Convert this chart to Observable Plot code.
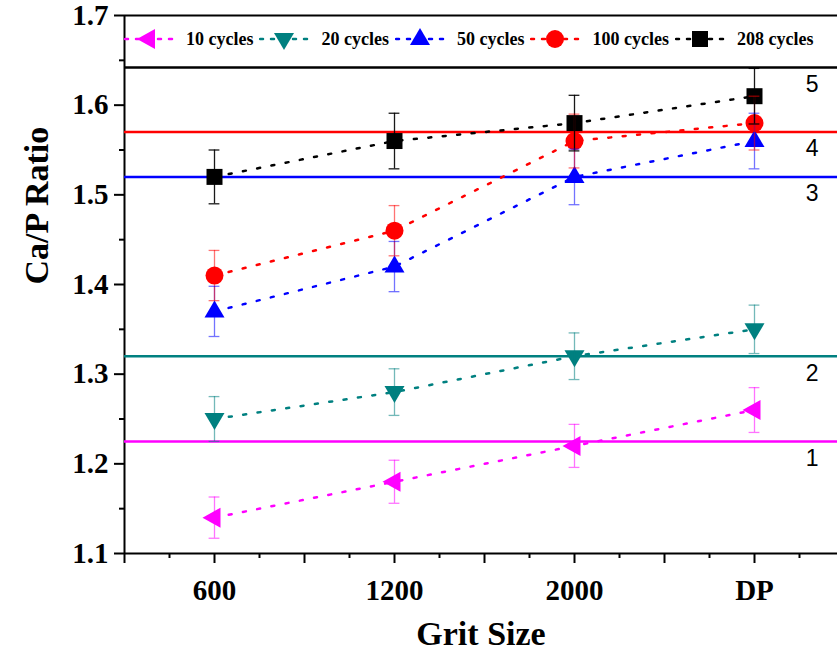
<!DOCTYPE html>
<html>
<head>
<meta charset="utf-8">
<script src="https://cdn.jsdelivr.net/npm/d3@7"></script>
<script src="https://cdn.jsdelivr.net/npm/@observablehq/plot@0.6"></script>
<style>
  html, body { margin: 0; padding: 0; background: #fff; }
  #wrap { position: relative; width: 837px; height: 655px; overflow: hidden; }
  #legend { position: absolute; left: 124px; top: 27px; display: flex; align-items: center;
            font-family: "Liberation Serif", serif; font-weight: bold; font-size: 18px; white-space: nowrap; }
  #legend .item { display: flex; align-items: center; margin-right: 6px; }
  #legend svg { display: block; }
  #legend span { margin-left: 12px; }
</style>
</head>
<body>
<div id="wrap"><div id="legend"></div></div>
<script>
// ---- data ----
const grit = ["600", "1200", "2000", "DP"];
const series = ["10 cycles", "20 cycles", "50 cycles", "100 cycles", "208 cycles"];
const colors = ["#ff00ff", "#008080", "#0000ff", "#ff0000", "#000000"];
const ratio10 = [1.14, 1.18, 1.22, 1.26];
const ratio20 = [1.25, 1.28, 1.32, 1.35];
const ratio50 = [1.37, 1.42, 1.52, 1.56];
const ratio100 = [1.41, 1.46, 1.56, 1.58];
const ratio208 = [1.52, 1.56, 1.58, 1.61];
const err10 = [0.023, 0.024, 0.024, 0.025];
const err20 = [0.025, 0.026, 0.026, 0.027];
const err50 = [0.028, 0.028, 0.031, 0.031];
const err100 = [0.028, 0.028, 0.030, 0.030];
const err208 = [0.030, 0.031, 0.031, 0.031];
const refValues = [1.225, 1.32, 1.52, 1.57, 1.642];
const refLabels = ["1", "2", "3", "4", "5"];
const yTicks = [1.1, 1.2, 1.3, 1.4, 1.5, 1.6, 1.7];
const yMinorTicks = [1.15, 1.25, 1.35, 1.45, 1.55, 1.65];

// ---- build table ----
const ratios = [ratio10, ratio20, ratio50, ratio100, ratio208];
const errs = [err10, err20, err50, err100, err208];
const rows = [];
series.forEach((s, si) => grit.forEach((g, gi) => rows.push({series: s, si, grit: g, gi, v: ratios[si][gi], e: errs[si][gi]})));
const refs = refValues.map((v, i) => ({v, label: refLabels[i], color: colors[i]}));

// ---- symbols ----
const poly = pts => ({
  draw(ctx, size) {
    const k = Math.sqrt(size / Math.PI) / 10;
    ctx.moveTo(pts[0][0] * k, pts[0][1] * k);
    for (let i = 1; i < pts.length; i++) ctx.lineTo(pts[i][0] * k, pts[i][1] * k);
    ctx.closePath();
  }
});
const circ = { draw(ctx, size) { const r = Math.sqrt(size / Math.PI) * 0.9; ctx.moveTo(r, 0); ctx.arc(0, 0, r, 0, 2 * Math.PI); } };
const symbols = [
  poly([[-12, 0], [6, -10], [6, 10]]),
  poly([[0, 11], [10, -6], [-10, -6]]),
  poly([[0, -11], [10, 6], [-10, 6]]),
  circ,
  poly([[-8, -8], [8, -8], [8, 8], [-8, 8]])
];

const serif = "Liberation Serif, Times New Roman, serif";
const xMajor = [-0.5, 0, 0.5, 1, 1.5, 2, 2.5, 3, 3.5];
const xMinor = [-0.25, 0.25, 0.75, 1.25, 1.75, 2.25, 2.75, 3.25];
const dash = "3,11.5";

const marks = [
  // axes
  Plot.axisY(yTicks, {tickSize: 10, tickPadding: 6, strokeWidth: 2, tickFormat: d => d.toFixed(1),
    fontSize: 29, fontWeight: "bold", fontFamily: serif, label: null}),
  Plot.axisY(yMinorTicks, {tickSize: 5, strokeWidth: 2, tickFormat: () => "", label: null}),
  Plot.axisX(xMajor, {tickSize: 10, tickPadding: 16, strokeWidth: 2,
    tickFormat: d => Number.isInteger(d) && d >= 0 ? grit[d] : "",
    fontSize: 29, fontWeight: "bold", fontFamily: serif, label: null}),
  Plot.axisX(xMinor, {tickSize: 5, strokeWidth: 2, tickFormat: () => "", label: null}),
  Plot.ruleX([-0.5], {y1: 1.1, y2: 1.7, strokeWidth: 2}),
  Plot.ruleY([1.1, 1.7], {strokeWidth: 2}),
  // axis titles
  Plot.text(["Ca/P Ratio"], {frameAnchor: "left", dx: -87, rotate: -90, fontSize: 34, fontWeight: "bold", fontFamily: serif}),
  Plot.text(["Grit Size"], {frameAnchor: "bottom", dy: 91, fontSize: 34, fontWeight: "bold", fontFamily: serif}),
  // reference lines
  Plot.ruleY(refs, {y: "v", stroke: "color", strokeWidth: 2.5}),
  Plot.text(refs, {y: "v", text: "label", frameAnchor: "right", dx: -19, dy: 17, fontSize: 23,
    fontFamily: "Liberation Sans, Arial, sans-serif", fill: "#000"}),
  // series lines
  Plot.line(rows, {x: "gi", y: "v", z: "series", stroke: "series", strokeWidth: 2.5, strokeDasharray: dash, strokeLinecap: "round"}),
  // markers
  ...series.map((s, si) => Plot.dot(rows.filter(d => d.si === si), {x: "gi", y: "v", r: 10, symbol: symbols[si], fill: colors[si], stroke: "none"})),
  // error bars
  Plot.ruleX(rows, {x: "gi", y1: d => d.v - d.e, y2: d => d.v + d.e, stroke: "series", strokeWidth: 1.3,
    strokeOpacity: d => d.si === 4 ? 0.9 : 0.55}),
  Plot.ruleY(rows, {y: d => d.v + d.e, x1: d => d.gi - 0.03, x2: d => d.gi + 0.03, stroke: "series", strokeWidth: 1.3,
    strokeOpacity: d => d.si === 4 ? 0.9 : 0.55}),
  Plot.ruleY(rows, {y: d => d.v - d.e, x1: d => d.gi - 0.03, x2: d => d.gi + 0.03, stroke: "series", strokeWidth: 1.3,
    strokeOpacity: d => d.si === 4 ? 0.9 : 0.55})
];

const chart = Plot.plot({
  width: 837, height: 655,
  marginLeft: 124, marginTop: 15, marginBottom: 102, marginRight: 0,
  x: {type: "linear", domain: [-0.5, 3.5], range: [124, 844]},
  y: {type: "linear", domain: [1.1, 1.7], range: [553, 15]},
  color: {domain: series, range: colors},
  style: {fontFamily: serif, background: "white", overflow: "hidden"},
  marks
});
document.getElementById("wrap").prepend(chart);

// ---- legend ----
const legend = d3.select("#legend");
series.forEach((s, si) => {
  const item = legend.append("div").attr("class", "item");
  const svg = item.append("svg").attr("width", 50).attr("height", 24);
  svg.append("line").attr("x1", 1).attr("x2", 49).attr("y1", 12).attr("y2", 12)
    .attr("stroke", colors[si]).attr("stroke-width", 2.5).attr("stroke-dasharray", "3,8").attr("stroke-linecap", "round");
  const p = d3.path();
  symbols[si].draw(p, Math.PI * 100);
  svg.append("path").attr("d", p.toString()).attr("transform", "translate(25,12)").attr("fill", colors[si]);
  item.append("span").text(s);
});
</script>
</body>
</html>
